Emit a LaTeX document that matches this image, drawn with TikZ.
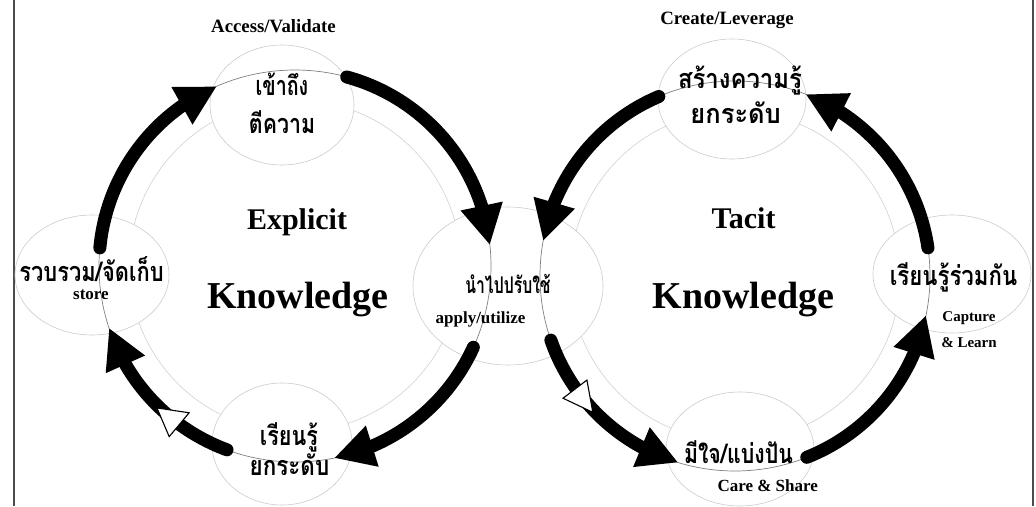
\documentclass[tikz,border=0pt]{standalone}
\usepackage{fontspec}
\setmainfont{Liberation Serif}
\newfontfamily\thaifont[Script=Thai]{Loma}
\usetikzlibrary{arrows.meta,bending,shapes.geometric}
\tikzset{
  ring/.style={draw=black!50, line width=0.7pt},
  innerring/.style={draw=black!18, line width=0.6pt},
  bubble/.style={ellipse, draw=black!20, fill=white, line width=0.6pt, inner sep=0pt},
  flow/.style={line width=13pt, line cap=round, -{Triangle[length=40pt,width=40pt,flex]}},
  openhead/.style={draw=black, fill=white, line width=1.1pt, line join=miter},
  border/.style={draw=black!70, line width=1.5pt},
  thbig/.style={font=\thaifont\bfseries\fontsize{27}{27}\selectfont, anchor=base, inner sep=0pt, text depth=0pt},
  thmid/.style={font=\thaifont\bfseries\fontsize{23}{23}\selectfont, anchor=base, inner sep=0pt, text depth=0pt},
  entitle/.style={font=\bfseries\fontsize{18.8}{18.8}\selectfont, anchor=base, inner sep=0pt},
  ensmall/.style={font=\bfseries\fontsize{17}{17}\selectfont, anchor=base, inner sep=0pt},
  entiny/.style={font=\bfseries\fontsize{15}{15}\selectfont, anchor=base, inner sep=0pt},
  enkind/.style={font=\bfseries\fontsize{30}{30}\selectfont, anchor=base, inner sep=0pt},
  enbig/.style={font=\bfseries\fontsize{38}{38}\selectfont, anchor=base, inner sep=0pt},
}
\begin{document}
\begin{tikzpicture}[x=1pt,y=-1pt]
\useasboundingbox (0,0) rectangle (1036,506);
\fill[white] (0,0) rectangle (1036,506);
\coordinate (Lc) at (295,266);
\coordinate (Rc) at (735,276);
% border lines
\coordinate (b1) at (14,0); \coordinate (b2) at (14,506);
\coordinate (b3) at (1033,0); \coordinate (b4) at (1033,506);
\draw[border] (b1) -- (b2);
\draw[border] (b3) -- (b4);
% inner faint rings
\draw[innerring] (Lc) circle[radius=166];
\draw[innerring] (Rc) circle[radius=165];
% bubbles
\node[bubble, minimum width=144pt, minimum height=120pt] (lt) at (282,105) {};
\node[bubble, minimum width=154pt, minimum height=120pt] (ll) at (92,275) {};
\node[bubble, minimum width=140pt, minimum height=122pt] (lb) at (282,444) {};
\node[bubble, minimum width=190pt, minimum height=158pt] (mid) at (508,286) {};
\node[bubble, minimum width=148pt, minimum height=120pt] (rt) at (732,99) {};
\node[bubble, minimum width=158pt, minimum height=118pt] (rr) at (952,274) {};
\node[bubble, minimum width=148pt, minimum height=114pt] (rb) at (740,449) {};
% outer thin rings
\draw[ring] (Lc) circle[radius=196];
\draw[ring] (Rc) circle[radius=195];
% left cycle arrows
\begin{scope}[shift={(Lc)}]
  \draw[flow] (185.3:196) arc[start angle=185.3, end angle=246.5, radius=196];
  \draw[flow] (285.3:196) arc[start angle=285.3, end angle=353.9, radius=196];
  \draw[flow] (24.5:196) arc[start angle=24.5, end angle=78.5, radius=196];
  \draw[flow] (110.3:196) arc[start angle=110.3, end angle=161.6, radius=196];
  \draw[openhead] (134.2:198) -- (125.8:181) -- (126.4:212) -- cycle;
\end{scope}
% right cycle arrows
\begin{scope}[shift={(Rc)}]
  \draw[flow] (247:195) arc[start angle=247, end angle=190.3, radius=195];
  \draw[flow] (351.7:195) arc[start angle=351.7, end angle=291.2, radius=195];
  \draw[flow] (160.8:195) arc[start angle=160.8, end angle=106.9, radius=195];
  \draw[flow] (68.4:195) arc[start angle=68.4, end angle=11.6, radius=195];
  \draw[openhead] (136.2:197) -- (144.6:211) -- (144.9:181) -- cycle;
\end{scope}
% texts left
\node[entitle] (tav) at (273.5,32) {Access/Validate};
\node[thbig, xscale=0.727] (t1) at (282,95) {เข้าถึง};
\node[thbig, xscale=0.79] (t2) at (282,133) {ตีความ};
\node[enkind] (texp) at (297,229) {Explicit};
\node[enbig] (tk1) at (298,308) {Knowledge};
\node[thbig, xscale=0.81] (t3) at (91.5,281) {รวบรวม/จัดเก็บ};
\node[ensmall] (tst) at (91,299.5) {store};
\node[thbig, xscale=0.80] (t4) at (289,445) {เรียนรู้};
\node[thbig, xscale=0.83] (t5) at (289.5,475) {ยกระดับ};
% middle
\node[thmid, xscale=0.686] (t6) at (508,293) {นำไปปรับใช้};
\node[ensmall] (tap) at (480.5,323) {apply/utilize};
% right
\node[entitle] (tcl) at (727,24) {Create/Leverage};
\node[thbig, xscale=0.885] (t7) at (740,88) {สร้างความรู้};
\node[thbig, xscale=0.944] (t8) at (735.7,123) {ยกระดับ};
\node[enkind] (ttac) at (743.5,228) {Tacit};
\node[enbig] (tk2) at (743.5,308) {Knowledge};
\node[thbig, xscale=0.823] (t9) at (953.5,285) {เรียนรู้ร่วมกัน};
\node[entiny] (tcap) at (969,321) {Capture};
\node[entiny] (tlea) at (969,347) {\& Learn};
\node[thbig, xscale=0.79] (t10) at (738.5,463) {มีใจ/แบ่งปัน};
\node[ensmall] (tcs) at (767.7,491) {Care \& Share};
\end{tikzpicture}
\end{document}
